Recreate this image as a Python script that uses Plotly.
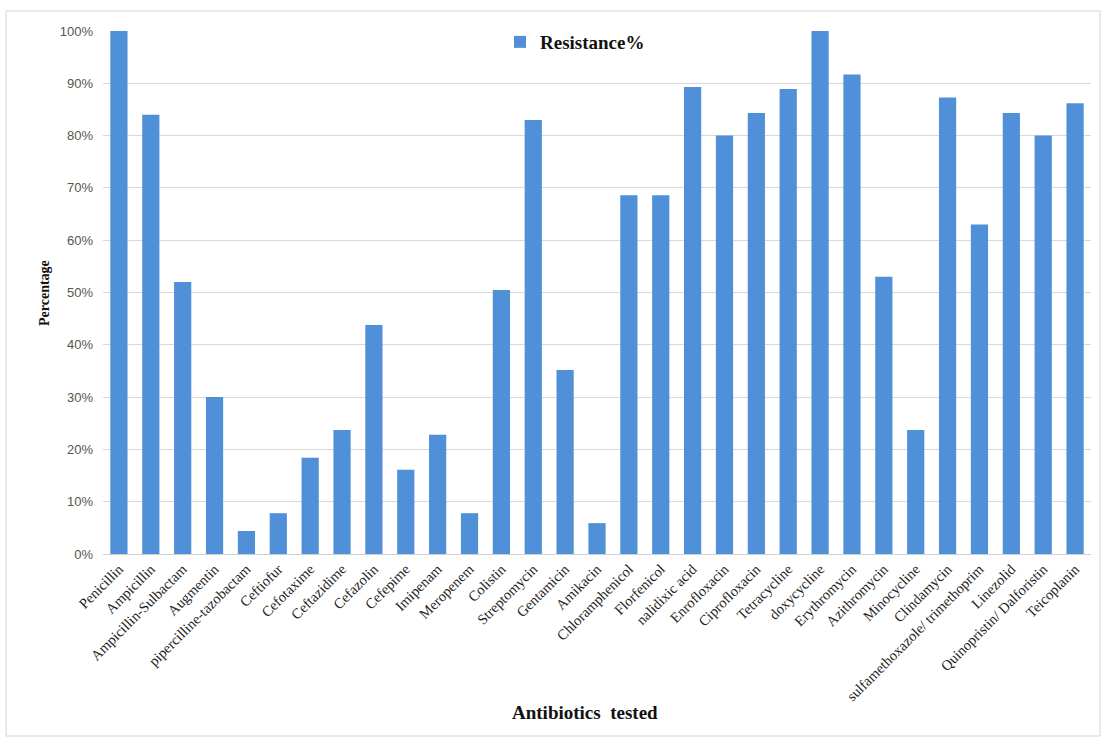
import plotly.graph_objects as go

antibiotics = [
    "Penicillin", "Ampicillin", "Ampicillin-Sulbactam", "Augmentin",
    "pipercilline-tazobactam", "Ceftiofur", "Cefotaxime", "Ceftazidime",
    "Cefazolin", "Cefepime", "Imipenam", "Meropenem", "Colistin",
    "Streptomycin", "Gentamicin", "Amikacin", "Chloramphenicol", "Florfenicol",
    "nalidixic acid", "Enrofloxacin", "Ciprofloxacin", "Tetracycline",
    "doxycycline", "Erythromycin", "Azithromycin", "Minocycline",
    "Clindamycin", "sulfamethoxazole/ trimethoprim", "Linezolid",
    "Quinopristin/ Dalforistin", "Teicoplanin",
]
resistance = [
    1.00, 0.84, 0.52, 0.30,
    0.044, 0.078, 0.184, 0.237,
    0.438, 0.161, 0.228, 0.078, 0.505,
    0.83, 0.352, 0.059, 0.686, 0.686,
    0.893, 0.80, 0.843, 0.889,
    1.00, 0.917, 0.53, 0.237,
    0.873, 0.63, 0.843,
    0.80, 0.862,
]
y_ticks = [i / 10 for i in range(11)]

serif = "Liberation Serif, Times New Roman, serif"
sans = "Liberation Sans, Arial, sans-serif"
W, H = 1102, 738
ml, mr, mt, mb = 103, 11, 31, 184
pw = W - ml - mr
ph = H - mt - mb


def px_x(x):
    return (x - ml) / pw


def px_y(y):
    return (H - mb - y) / ph


fig = go.Figure()
fig.add_trace(go.Bar(
    x=antibiotics,
    y=resistance,
    name="Resistance%",
    marker=dict(color="#4F90D8", line=dict(width=0)),
    width=0.54,
))

# light frame around the whole chart
fig.add_shape(
    type="rect", xref="paper", yref="paper",
    x0=px_x(6), x1=px_x(1100), y0=px_y(736), y1=px_y(11),
    line=dict(color="#d4d4d4", width=1), fillcolor="rgba(0,0,0,0)",
    layer="below",
)

# axis titles
fig.add_annotation(
    text="<b>Antibiotics  tested</b>", xref="paper", yref="paper",
    x=px_x(585), y=px_y(712), xanchor="center", yanchor="middle",
    showarrow=False, font=dict(family=serif, size=19, color="#111111"),
)
fig.add_annotation(
    text="<b>Percentage</b>", xref="paper", yref="paper",
    x=px_x(44), y=px_y(293), xanchor="center", yanchor="middle",
    textangle=-90, showarrow=False,
    font=dict(family=serif, size=14, color="#111111"),
)

fig.update_layout(
    width=W, height=H,
    margin=dict(l=ml, r=mr, t=mt, b=mb),
    paper_bgcolor="white", plot_bgcolor="white",
    font=dict(family=serif, color="#222222", size=13),
    showlegend=True,
    legend=dict(
        x=px_x(500), y=px_y(23), xanchor="left", yanchor="top",
        bgcolor="rgba(255,255,255,0)",
        font=dict(family=serif, size=19, color="#111111", weight="bold"),
        itemwidth=30,
    ),
    xaxis=dict(
        tickangle=-45,
        tickfont=dict(family=serif, size=14.5, color="#222222"),
        showline=True, linecolor="#d0d0d0", linewidth=1,
        ticks="", showgrid=False,
        range=[-0.5, len(antibiotics) - 0.5],
    ),
    yaxis=dict(
        range=[0, 1.0],
        tickvals=y_ticks,
        tickformat=".0%",
        tickfont=dict(family=sans, size=13, color="#555555"),
        ticklabelstandoff=9,
        showgrid=True, gridcolor="#d9d9d9", gridwidth=1,
        zeroline=False, ticks="",
    ),
    bargap=0.46,
)

fig.write_html("out.html")
